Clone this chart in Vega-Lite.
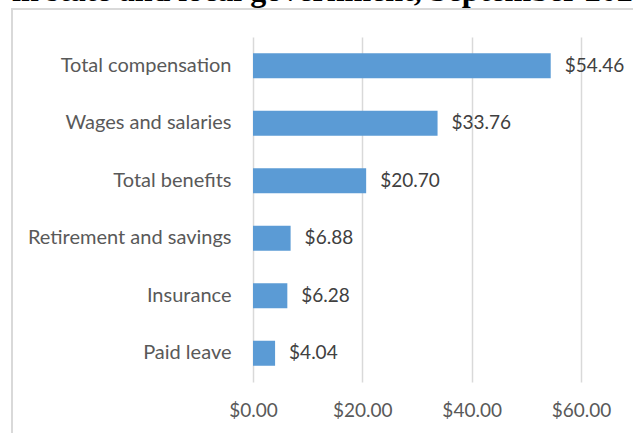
{
  "$schema": "https://vega.github.io/schema/vega-lite/v6.json",
  "autosize": {"type": "none"},
  "padding": {"left": 12, "top": 9, "right": -19, "bottom": -16},
  "width": 640,
  "height": 440,
  "title": {
    "text": "in state and local government, September 2021",
    "anchor": "start",
    "orient": "top",
    "frame": "group",
    "font": "Liberation Serif",
    "fontSize": 32,
    "fontWeight": "bold",
    "color": "#000000",
    "baseline": "alphabetic",
    "offset": 4,
    "dy": 28
  },
  "data": {
    "values": [
      {"category": "Total compensation", "cost": 54.46},
      {"category": "Wages and salaries", "cost": 33.76},
      {"category": "Total benefits", "cost": 20.70},
      {"category": "Retirement and savings", "cost": 6.88},
      {"category": "Insurance", "cost": 6.28},
      {"category": "Paid leave", "cost": 4.04}
    ]
  },
  "encoding": {
    "y": {
      "field": "category",
      "type": "nominal",
      "sort": null,
      "scale": {"range": [28, 373], "paddingInner": 0.565, "paddingOuter": 0.2825},
      "axis": {
        "title": null,
        "orient": "left",
        "offset": -219,
        "domain": false,
        "ticks": false,
        "tickSize": 0,
        "labelPadding": 0,
        "grid": false,
        "labelLimit": 400,
        "labelFont": "Lato",
        "labelFontSize": 20,
        "labelColor": "#595959",
        "labelAlign": "right",
        "labelBaseline": "middle"
      }
    }
  },
  "layer": [
    {
      "mark": {"type": "bar", "color": "#5b9bd5"},
      "encoding": {
        "x": {
          "field": "cost",
          "type": "quantitative",
          "scale": {"domain": [0, 60], "range": [241, 569], "nice": false},
          "axis": {
            "title": null,
            "orient": "top",
            "values": [0, 20, 40, 60],
            "domain": false,
            "ticks": false,
            "tickSize": 0,
            "labels": false,
            "grid": true,
            "gridColor": "#d9d9d9",
            "gridWidth": 1.5
          }
        }
      }
    },
    {
      "mark": {"type": "text", "align": "left", "baseline": "middle", "dx": 14, "font": "Lato", "fontSize": 19, "color": "#404040"},
      "encoding": {
        "x": {
          "field": "cost",
          "type": "quantitative",
          "scale": {"domain": [0, 60], "range": [241, 569], "nice": false},
          "axis": {
            "title": null,
            "orient": "bottom",
            "offset": -39,
            "values": [0, 20, 40, 60],
            "format": "$.2f",
            "domain": false,
            "ticks": false,
            "tickSize": 0,
            "labelPadding": 0,
            "labelFlush": false,
            "labelOverlap": false,
            "labelAlign": "center",
            "labelBaseline": "middle",
            "labelFont": "Lato",
            "labelFontSize": 19,
            "labelColor": "#595959",
            "grid": false
          }
        },
        "text": {"field": "cost", "type": "quantitative", "format": "$.2f"}
      }
    }
  ],
  "resolve": {"axis": {"x": "independent"}},
  "config": {
    "view": {"stroke": "#d9d9d9", "strokeWidth": 2}
  }
}
